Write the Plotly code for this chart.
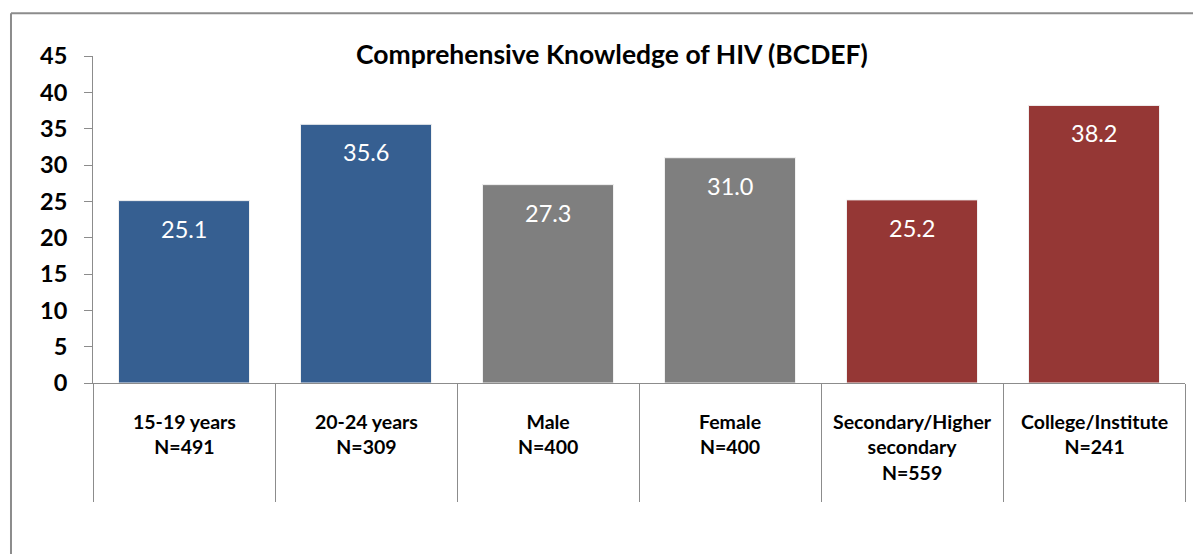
import plotly.graph_objects as go

categories = ["15-19 years", "20-24 years", "Male", "Female", "Secondary/Higher secondary", "College/Institute"]
axis_labels = ["15-19 years<br>N=491", "20-24 years<br>N=309", "Male<br>N=400", "Female<br>N=400",
               "Secondary/Higher<br>secondary<br>N=559", "College/Institute<br>N=241"]
values = [25.1, 35.6, 27.3, 31.0, 25.2, 38.2]
bar_colors = ["#365F91", "#365F91", "#7F7F7F", "#7F7F7F", "#953735", "#953735"]
y_ticks = [0, 5, 10, 15, 20, 25, 30, 35, 40, 45]

FONT = "Lato"

fig = go.Figure()
fig.add_trace(go.Bar(
    x=categories,
    y=values,
    marker=dict(color=bar_colors, line=dict(color="#f2f2f2", width=1)),
    width=0.72,
    hoverinfo="skip",
))

# value labels inside the top of each bar
for c, v in zip(categories, values):
    fig.add_annotation(x=c, y=v, text=f"{v:.1f}", showarrow=False,
                       yanchor="middle", yshift=-28,
                       font=dict(family=FONT, size=23.5, color="white"))

# category labels below the axis
for c, lab in zip(categories, axis_labels):
    fig.add_annotation(x=c, y=-0.077, yref="paper", text=lab, showarrow=False,
                       yanchor="top", align="center",
                       font=dict(family=FONT, size=19.5, color="black", weight="bold"))

# title
fig.add_annotation(x=0.475, y=1.006, xref="paper", yref="paper", text="Comprehensive Knowledge of HIV (BCDEF)",
                   showarrow=False, yanchor="middle",
                   font=dict(family=FONT, size=26.5, color="black", weight="bold"))

# outer chart border (left and top edges visible)
fig.add_shape(type="line", xref="paper", yref="paper", x0=-0.0751, x1=-0.0751, y0=-0.6, y1=1.131,
              line=dict(color="#8c8c8c", width=2))
fig.add_shape(type="line", xref="paper", yref="paper", x0=-0.0751, x1=1.05, y0=1.131, y1=1.131,
              line=dict(color="#8c8c8c", width=2))

fig.update_xaxes(
    type="category",
    showticklabels=False,
    ticks="outside", tickson="boundaries", ticklen=118, tickwidth=1, tickcolor="#8c8c8c",
    showline=True, linecolor="#8c8c8c", linewidth=1,
    showgrid=False, zeroline=False,
)
fig.update_yaxes(
    range=[0, 45], tickvals=y_ticks,
    ticks="outside", ticklen=8, tickcolor="#8c8c8c",
    showline=True, linecolor="#8c8c8c", linewidth=1,
    showgrid=False, zeroline=False,
    ticklabelstandoff=12,
    tickfont=dict(family=FONT, size=23.5, color="black", weight="bold"),
)
fig.update_layout(
    width=1193, height=546,
    margin=dict(l=85, r=16, t=48, b=170.5),
    plot_bgcolor="white", paper_bgcolor="white",
    showlegend=False, bargap=0.28,
)

fig.write_html("out.html")
